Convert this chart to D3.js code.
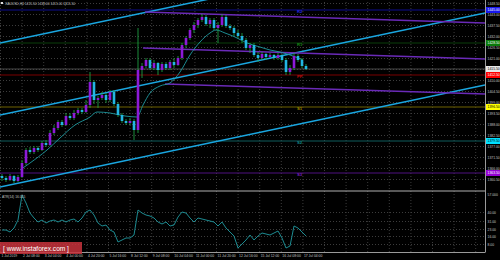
<!DOCTYPE html>
<html>
<head>
<meta charset="utf-8">
<script src="https://cdn.jsdelivr.net/npm/d3@7"></script>
<style>
  body { margin: 0; background: #000; }
  svg { display: block; font-family: 'Liberation Sans', 'DejaVu Sans', sans-serif; }
  .grid line { stroke: #3c3c3c; stroke-dasharray: 1,2; }
  .grid path { display: none; }
  .axis text { fill: #c4c4c4; font-size: 3.4px; }
  .axis path { stroke: #9a9a9a; }
</style>
</head>
<body>
<svg id="chart" width="500" height="260"></svg>
<script>
  // ---- data (H4 bars) ----
  const opens = [1362,1361,1360,1362,1359.5,1361.5,1368.5,1375,1374,1376,
    1375,1378.5,1377.5,1383.5,1386,1389,1387.5,1392,1391,1393.5,
    1395,1394,1397.5,1409,1400,1401,1402.5,1400,1404,1398,
    1392.5,1389.5,1388.5,1389.5,1385,1415,1417,1420,1416,1418.5,
    1415,1418,1416,1419,1417.5,1421,1427.5,1431,1435,1437.5,
    1440,1441.5,1438,1440,1436,1437.5,1441.5,1437,1436,1433.5,
    1432,1430,1426,1427.5,1422.5,1421,1423,1421.5,1422.5,1421,
    1422.5,1420,1414,1416,1422,1420,1417];
  const highs = [1363,1362,1363,1362.5,1362.5,1370,1376,1376.5,1377,1377,
    1379.5,1380,1385,1387.5,1390,1390,1393.5,1393.5,1395,1396,
    1396,1400,1414,1410,1402,1404,1403.5,1405,1405,1399,
    1393.5,1390.5,1391,1390.5,1436,1418.5,1421,1421,1420,1419,
    1419,1419,1420,1421,1422,1428.5,1432,1436,1439,1441,
    1443,1442.5,1441,1441,1439,1443,1442.5,1438,1437,1435,
    1433.5,1431,1428.5,1428.5,1424,1424,1423.5,1423.5,1423,1423.5,
    1423,1421,1417.5,1423.5,1423,1421,1418];
  const lows = [1359.5,1359,1359.5,1358.5,1359,1361,1367.5,1373,1373,1374,
    1374.5,1376.5,1377,1382.5,1385,1386.5,1387,1390,1390,1392.5,
    1393,1393.5,1396,1398,1396,1400,1398.5,1399,1397,1391.5,
    1388.5,1387.5,1387.5,1380,1383.5,1411,1416,1415,1415,1412.5,
    1414,1415,1415,1416,1417,1420,1426,1430,1433.5,1436,
    1439,1437,1436,1435,1428.5,1436.5,1436,1435,1432,1431,
    1428.5,1425,1423.5,1421.5,1419,1420,1420,1421,1420,1420,
    1419,1412.5,1412.5,1415,1419,1416,1415];
  const closes = [1361,1360,1362,1359.5,1361.5,1368.5,1375,1374,1376,1375,
    1378.5,1377.5,1383.5,1386,1389,1387.5,1392,1391,1393.5,1395,
    1394,1397.5,1409,1400,1401,1402.5,1400,1404,1398,1392.5,
    1389.5,1388.5,1389.5,1385,1415,1417,1420,1416,1418.5,1415,
    1418,1416,1419,1417.5,1421,1427.5,1431,1435,1437.5,1440,
    1441.5,1438,1440,1436,1437.5,1441.5,1437,1436,1433.5,1432,
    1430,1426,1427.5,1422.5,1421,1423,1421.5,1422.5,1421,1422.5,
    1420,1414,1416,1422,1420,1417,1415.5];

  // moving average (read at a few bars)
  const maBars = [4.5,7,11.25,14.5,18.25,22,23.75,27,30.75,33.75,35.25,37,39.5,42,44.5,47,49.5,52,53.5,55.75,58.25,61.25,64.5,67,69.5,72,75.25];
  const maValues = [1365,1368.5,1375,1381,1387.5,1391.5,1394,1393.5,1392,1391.5,1397.5,1403.5,1407,1408.5,1414,1422.5,1429,1433.5,1435,1433.5,1431.5,1428.5,1426.5,1425,1424,1422.5,1420];

  // oscillator, one value per bar
  const oscValues = [22,22,20,24,32,57,49,39,34,30,
    32,29,31,32,30,32,30,32,33,30,
    34,40,42,37,29,26,27,22,20,10,
    12,14,14,17,42,39,37,36,34,30,
    28,30,26,27,35,40,39,34,30,34,
    33,32,31,30,26,30,24,20,16,4,
    8,12,17,12,16,19,18,17,19,21,
    14,4,6,26,24,20,16];

  // regression channel: [bar, price] of the middle line ends, half width in price
  const channelStart = [-0.5, 1392.5];
  const channelEnd = [120.75, 1443.5];
  const channelHalf = 36;

  // sloping purple lines [bar1, price1, bar2, price2]
  const slopeLines = [[35.75,1444,120.75,1438.5],[35.25,1426,120.75,1420.5],[40.75,1408,120.75,1403]];

  // horizontal levels
  const levelNames = ['R2','R1','PP','S1','S2','S3'];
  const levelPrices = [1445, 1428.5, 1412.5, 1396.5, 1379.5, 1363.5];
  const currentPrice = 1415.5;

  const priceTicks = [1448.5,1443,1437.5,1432,1426.5,1421,1415.5,1410,1404.5,1399,1393.5,1388,1382.5,1377,1371.5,1366,1360.5];
  const oscTicks = [40, 31, 23, 16, 8];
  const oscMax = 57;
  const timeLabels = ['1 Jul 2019','2 Jul 08:00','3 Jul 04:00','4 Jul 00:00','4 Jul 20:00','5 Jul 16:00','8 Jul 12:00','9 Jul 08:00','10 Jul 04:00','11 Jul 00:00','11 Jul 20:00','12 Jul 16:00','15 Jul 12:00','16 Jul 08:00','17 Jul 04:00'];

  // ---- layout ----
  const W = 500, H = 260, plotRight = 485;
  const mainBottom = 190, oscTop = 192, oscBottom = 252;
  const barsPerGrid = 5.4;

  const svg = d3.select('#chart');
  svg.append('rect').attr('width', W).attr('height', H).attr('fill', '#000');

  const x = d3.scaleLinear().domain([-0.5, 120.75]).range([0, plotRight]);
  const y = d3.scaleLinear().domain([1355, 1450]).range([mainBottom, 0]);
  const yOsc = d3.scaleLinear().domain([0, 60]).range([oscBottom, oscTop]);

  const defs = svg.append('defs');
  defs.append('clipPath').attr('id', 'clipMain')
    .append('rect').attr('width', plotRight).attr('height', mainBottom + 1);
  defs.append('clipPath').attr('id', 'clipOsc')
    .append('rect').attr('y', oscTop).attr('width', plotRight).attr('height', oscBottom - oscTop);

  const gridBars = d3.range(0, 23).map(k => k * barsPerGrid - 0.5);

  // grids
  svg.append('g').attr('class', 'grid')
    .attr('transform', 'translate(0,' + oscBottom + ')')
    .call(d3.axisBottom(x).tickValues(gridBars).tickSize(-oscBottom).tickFormat(''));
  svg.append('g').attr('class', 'grid')
    .call(d3.axisRight(y).tickValues(priceTicks).tickSize(plotRight).tickFormat(''));
  svg.append('g').attr('class', 'grid')
    .call(d3.axisRight(yOsc).tickValues(oscTicks).tickSize(plotRight).tickFormat(''));

  const main = svg.append('g').attr('clip-path', 'url(#clipMain)');

  // horizontal levels
  const levelLine = ['#0c0c90', '#0b3f0b', '#7a0000', '#6e6200', '#0f5c5c', '#4e1080'];
  const levelBox = ['#1818f0', '#0a7a0a', '#ff0000', '#ffff00', '#00e0ff', '#9400d3'];
  const levelText = ['#2a2ae0', '#1a8a1a', '#c01010', '#a09000', '#138a8a', '#7a20c0'];
  main.selectAll('.lvl').data(levelPrices).join('line')
    .attr('x1', 0).attr('x2', plotRight)
    .attr('y1', d => y(d)).attr('y2', d => y(d))
    .attr('stroke', (d, i) => levelLine[i]).attr('stroke-width', 1);
  main.append('line')
    .attr('x1', 0).attr('x2', plotRight)
    .attr('y1', y(currentPrice)).attr('y2', y(currentPrice))
    .attr('stroke', '#5a5a5a').attr('stroke-width', 0.8);
  main.selectAll('.lvlText').data(levelPrices).join('text')
    .attr('x', x(73.75)).attr('y', d => y(d) + 2.6)
    .attr('fill', (d, i) => levelText[i]).attr('font-size', 4.2).attr('font-weight', 'bold')
    .text((d, i) => levelNames[i]);

  // channel
  const chanLine = d3.line().x(d => x(d[0])).y(d => y(d[1]));
  [-channelHalf, 0, channelHalf].forEach(off => {
    main.append('path')
      .attr('d', chanLine([[channelStart[0], channelStart[1] + off], [channelEnd[0], channelEnd[1] + off]]))
      .attr('stroke', '#1aa6e0').attr('stroke-width', 1.5).attr('fill', 'none');
  });

  // sloping purple lines
  main.selectAll('.slope').data(slopeLines).join('line')
    .attr('x1', d => x(d[0])).attr('y1', d => y(d[1]))
    .attr('x2', d => x(d[2])).attr('y2', d => y(d[3]))
    .attr('stroke', '#6a2ab8').attr('stroke-width', 1.5);

  // moving average
  main.append('path')
    .datum(maBars.map((b, i) => [b, maValues[i]]))
    .attr('d', d3.line().x(d => x(d[0])).y(d => y(d[1])).curve(d3.curveMonotoneX))
    .attr('stroke', '#1f9aa0').attr('stroke-width', 0.9).attr('fill', 'none');

  // candles
  const bars = closes.map((c, i) => ({ i, o: opens[i], h: highs[i], l: lows[i], c }));
  const candle = main.selectAll('.candle').data(bars).join('g');
  candle.append('line')
    .attr('x1', d => x(d.i)).attr('x2', d => x(d.i))
    .attr('y1', d => y(d.h)).attr('y2', d => y(d.l))
    .attr('stroke', '#22b04a').attr('stroke-width', 0.8);
  candle.append('rect')
    .attr('x', d => x(d.i) - 1.3).attr('width', 2.6)
    .attr('y', d => y(Math.max(d.o, d.c)))
    .attr('height', d => Math.max(1, Math.abs(y(d.o) - y(d.c))))
    .attr('fill', d => d.c >= d.o ? '#8c1ad8' : '#22b6e2');

  // oscillator
  svg.append('g').attr('clip-path', 'url(#clipOsc)').append('path')
    .datum(oscValues)
    .attr('d', d3.line().x((d, i) => x(i)).y(d => yOsc(d)))
    .attr('stroke', '#1f9aa0').attr('stroke-width', 0.9).attr('fill', 'none');

  // frame
  svg.append('line').attr('x1', 0).attr('x2', plotRight).attr('y1', 191).attr('y2', 191)
    .attr('stroke', '#b0b0b0').attr('stroke-width', 1);
  svg.append('line').attr('x1', 0).attr('x2', plotRight + 0.5).attr('y1', oscBottom + 0.5).attr('y2', oscBottom + 0.5)
    .attr('stroke', '#9a9a9a').attr('stroke-width', 1);

  // right price axis
  svg.append('g').attr('class', 'axis')
    .attr('transform', 'translate(' + (plotRight + 0.5) + ',0)')
    .call(d3.axisRight(y).tickValues(priceTicks).tickSize(0).tickPadding(2).tickFormat(d3.format('.2f')))
    .call(g => g.select('.domain').attr('d', 'M0,0V' + oscBottom));
  svg.append('g').attr('class', 'axis')
    .attr('transform', 'translate(' + (plotRight + 0.5) + ',0)')
    .call(d3.axisRight(yOsc).tickValues(oscTicks).tickSize(0).tickPadding(2).tickFormat(d3.format('.2f')))
    .call(g => g.select('.domain').remove());

  // coloured price boxes on the axis
  const boxes = levelPrices.map((p, i) => ({ p, fill: levelBox[i], txt: i === 3 || i === 4 ? '#000' : '#fff' }));
  boxes.splice(2, 0, { p: currentPrice, fill: '#e8e8e8', txt: '#000' });
  const box = svg.selectAll('.box').data(boxes).join('g')
    .attr('transform', d => 'translate(' + (plotRight + 1) + ',' + y(d.p) + ')');
  box.append('rect').attr('x', 0).attr('y', -3).attr('width', 14).attr('height', 6).attr('fill', d => d.fill);
  box.append('text').attr('x', 1.5).attr('y', 1.3).attr('font-size', 3.4).attr('fill', d => d.txt)
    .text(d => d3.format('.2f')(d.p));
  svg.append('text').attr('x', plotRight + 2.5).attr('y', yOsc(oscMax) + 1.3)
    .attr('font-size', 3.4).attr('fill', '#c4c4c4').text(d3.format('.3f')(oscMax));

  // time axis
  svg.append('g').attr('class', 'axis')
    .attr('transform', 'translate(0,' + (oscBottom + 0.5) + ')')
    .call(d3.axisBottom(x).tickValues(gridBars.slice(0, timeLabels.length)).tickSize(0).tickPadding(3)
      .tickFormat((d, i) => timeLabels[i]))
    .call(g => g.select('.domain').remove())
    .selectAll('text').attr('text-anchor', 'start').attr('dx', 1).attr('dy', '0.5em');

  // titles
  svg.append('rect').attr('x', 1).attr('y', 2).attr('width', 2).attr('height', 2).attr('fill', '#ddd');
  svg.append('text').attr('x', 5).attr('y', 4.5).attr('font-size', 3.3).attr('fill', '#c4c4c4')
    .text('XAUUSD,H4  1415.50 1418.00 1415.00 1415.50');
  svg.append('text').attr('x', 2).attr('y', 197.5).attr('font-size', 3.3).attr('fill', '#c4c4c4')
    .text('ATR(14)  16.015');

  // watermark
  svg.append('rect').attr('x', 0).attr('y', 242).attr('width', 82).attr('height', 12)
    .attr('fill', '#c8323c').attr('opacity', 0.85);
  svg.append('text').attr('x', 3).attr('y', 250.5).attr('font-size', 6.6).attr('fill', '#fff')
    .text('[  www.instaforex.com  ]');
</script>
</body>
</html>
